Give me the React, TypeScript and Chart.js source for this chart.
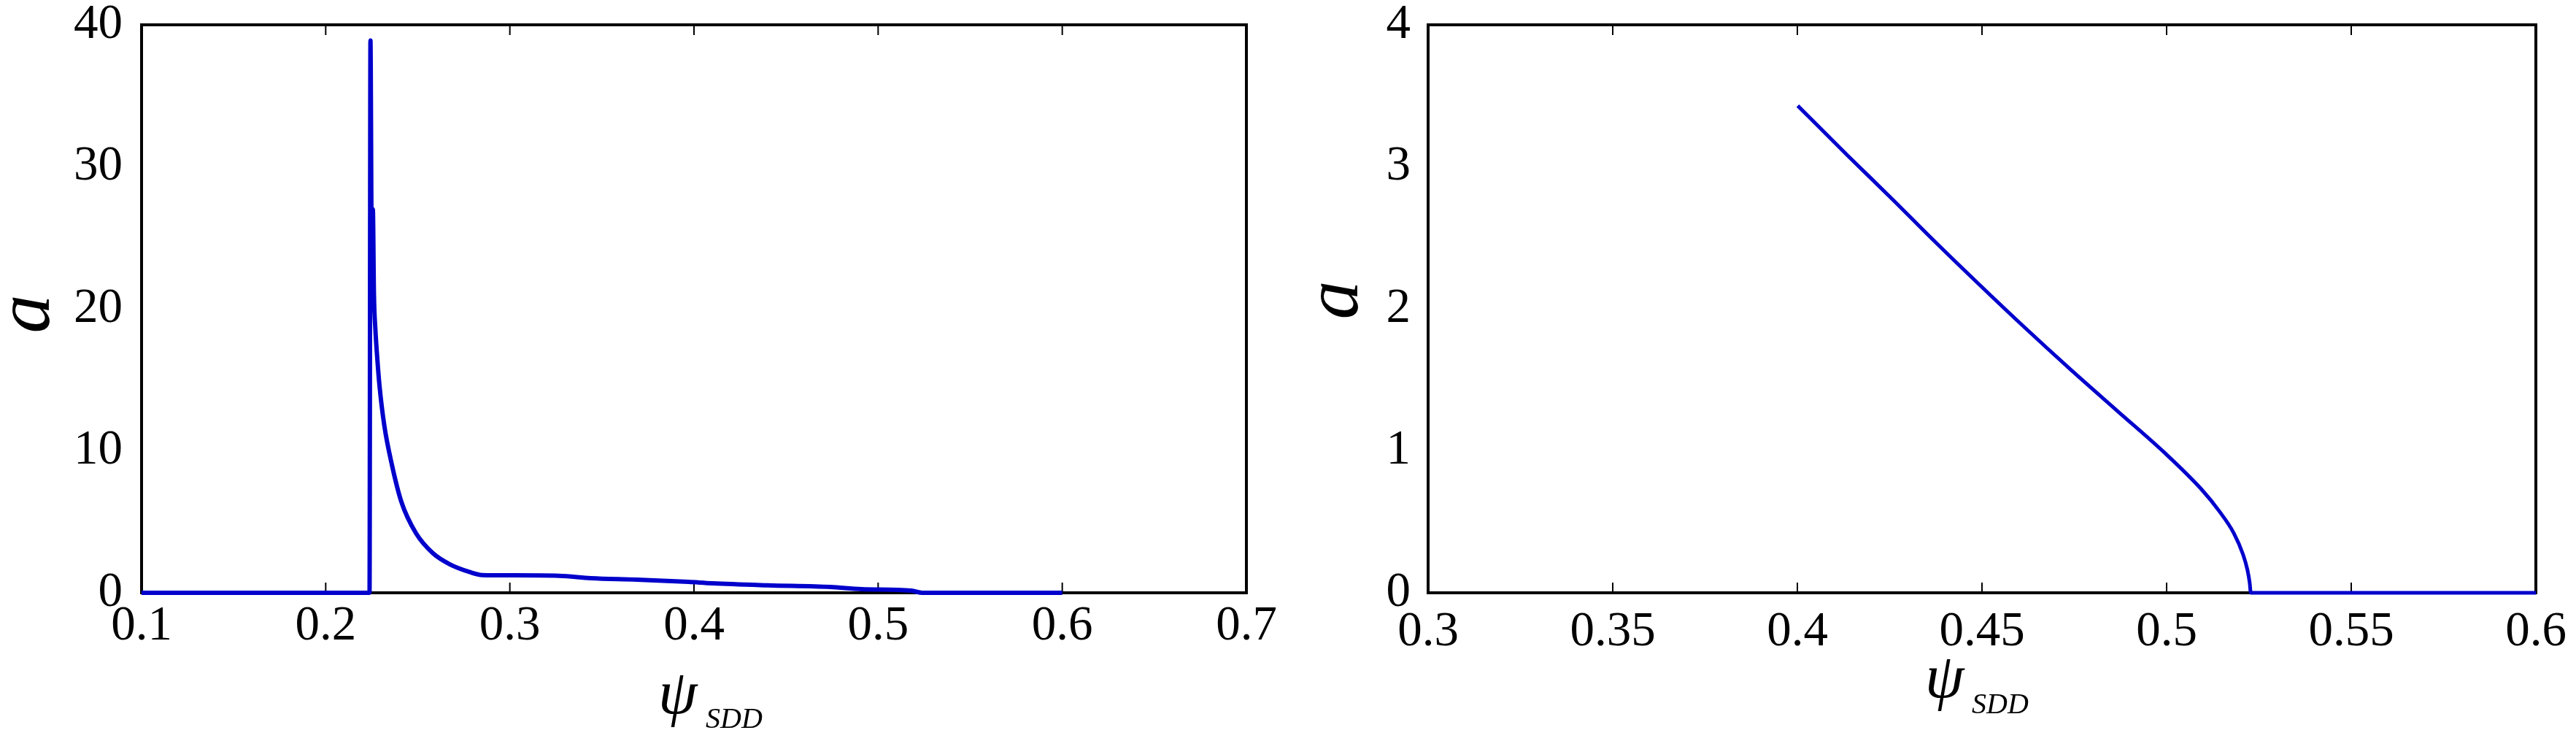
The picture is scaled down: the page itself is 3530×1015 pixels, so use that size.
import React, { useEffect, useRef } from 'react';
import { Chart, registerables } from 'chart.js';

Chart.register(...registerables);

// ---------- data ----------
const leftPsi = [0.1, 0.2238, 0.2243, 0.2250, 0.2256, 0.2262, 0.2270, 0.2279, 0.2292, 0.2318, 0.2358, 0.2411, 0.2490, 0.2581, 0.2675, 0.2780, 0.2850, 0.3000, 0.3267, 0.3440, 0.3690, 0.3970, 0.4100, 0.4400, 0.4740, 0.4910, 0.5180, 0.5240, 0.6];
const leftA = [0, 0, 38.9, 24.5, 27.0, 21.0, 18.5, 16.7, 14.6, 11.8, 9.1, 6.4, 4.2, 2.8, 2.0, 1.47, 1.25, 1.23, 1.2, 1.03, 0.93, 0.77, 0.67, 0.53, 0.41, 0.26, 0.15, 0, 0];

const rightPsi = [0.4001, 0.4136, 0.4262, 0.4362, 0.4489, 0.4615, 0.4741, 0.4867, 0.4993, 0.5094, 0.5144, 0.5182, 0.5207, 0.5219, 0.5225, 0.5228, 0.6];
const rightA = [3.43, 3.08, 2.76, 2.50, 2.18, 1.87, 1.57, 1.28, 0.99, 0.73, 0.57, 0.42, 0.27, 0.16, 0.07, 0, 0];

const leftXTicks = [0.1, 0.2, 0.3, 0.4, 0.5, 0.6, 0.7];
const leftYTicks = [0, 10, 20, 30, 40];
const rightXTicks = [0.3, 0.35, 0.4, 0.45, 0.5, 0.55, 0.6];
const rightYTicks = [0, 1, 2, 3, 4];

const yTitle = 'a';
const xTitleMain = 'ψ';
const xTitleSub = 'SDD';

const LINE_COLOR = '#0000CC';
const FONT = '"Liberation Serif", "Times New Roman", serif';

// ---------- plugins ----------
const framePlugin = {
  id: 'frame',
  beforeDatasetsDraw(chart: any) {
    const { ctx, chartArea } = chart;
    const { left, right, top, bottom } = chartArea;
    const xs = chart.scales.x;
    ctx.save();
    ctx.strokeStyle = '#000';
    ctx.lineWidth = 2;
    for (const t of xs.ticks) {
      const p = xs.getPixelForValue(t.value);
      if (p <= left + 2 || p >= right - 2) continue;
      ctx.beginPath();
      ctx.moveTo(p, bottom);
      ctx.lineTo(p, bottom - 14);
      ctx.moveTo(p, top);
      ctx.lineTo(p, top + 14);
      ctx.stroke();
    }
    ctx.lineWidth = 4;
    ctx.strokeRect(left, top, right - left, bottom - top);
    ctx.restore();
  },
};

const titlePlugin = {
  id: 'titles',
  afterDraw(chart: any, _args: any, o: any) {
    const { ctx, chartArea: ca } = chart;
    const cx = (ca.left + ca.right) / 2;
    const cy = (ca.top + ca.bottom) / 2;
    ctx.save();
    ctx.fillStyle = '#000';
    ctx.font = `italic 106px ${FONT}`;
    ctx.translate(ca.left + o.aDX, cy + o.aDY);
    ctx.rotate(-Math.PI / 2);
    ctx.textAlign = 'center';
    ctx.textBaseline = 'alphabetic';
    ctx.fillText(yTitle, 0, 0);
    ctx.restore();

    ctx.save();
    ctx.fillStyle = '#000';
    ctx.textAlign = 'left';
    ctx.textBaseline = 'alphabetic';
    ctx.font = `italic 86px ${FONT}`;
    ctx.fillText(xTitleMain, cx + o.psiDX, ca.bottom + o.psiDY);
    ctx.font = `italic 40px ${FONT}`;
    ctx.fillText(xTitleSub, cx + o.subDX, ca.bottom + o.subDY);
    ctx.restore();
  },
};

type PanelProps = {
  xs: number[];
  ys: number[];
  xTicks: number[];
  yTicks: number[];
  left: number;
  yWidth: number;
  padRight: number;
  xPad: number;
  yPad: number;
  lineWidth: number;
  titles: any;
};

const CW = 1765;
const CH = 1015;

function Panel(p: PanelProps) {
  const ref = useRef<HTMLCanvasElement>(null);
  useEffect(() => {
    const tickFont = { family: FONT, size: 67 };
    const chart = new Chart(ref.current as HTMLCanvasElement, {
      type: 'line',
      data: {
        datasets: [
          {
            data: p.xs.map((x, i) => ({ x, y: p.ys[i] })),
            borderColor: LINE_COLOR,
            backgroundColor: LINE_COLOR,
            borderWidth: p.lineWidth,
            pointRadius: 0,
            cubicInterpolationMode: 'monotone',
            fill: false,
            clip: false as any,
          },
        ],
      },
      options: {
        animation: false,
        responsive: false,
        devicePixelRatio: 1,
        events: [],
        layout: { padding: { left: 0, right: p.padRight, top: 34, bottom: 0 } },
        plugins: {
          legend: { display: false },
          tooltip: { enabled: false },
          titles: p.titles,
        } as any,
        scales: {
          x: {
            type: 'linear',
            position: 'bottom',
            min: p.xTicks[0],
            max: p.xTicks[p.xTicks.length - 1],
            grid: { display: false, drawTicks: false },
            border: { display: false },
            ticks: {
              font: tickFont,
              color: '#000',
              padding: p.xPad,
              maxRotation: 0,
              autoSkip: false,
              callback: (v: any) => String(v),
            },
            afterBuildTicks: (s: any) => {
              s.ticks = p.xTicks.map((v) => ({ value: v }));
            },
            afterFit: (s: any) => {
              s.height = CH - 812;
              s.paddingLeft = 0;
              s.paddingRight = 0;
            },
          },
          y: {
            type: 'linear',
            min: p.yTicks[0],
            max: p.yTicks[p.yTicks.length - 1],
            grid: { display: false, drawTicks: false },
            border: { display: false },
            ticks: {
              font: tickFont,
              color: '#000',
              padding: p.yPad,
              autoSkip: false,
              callback: (v: any) => String(v),
            },
            afterBuildTicks: (s: any) => {
              s.ticks = p.yTicks.map((v) => ({ value: v }));
            },
            afterFit: (s: any) => {
              s.width = p.yWidth;
              s.paddingTop = 0;
              s.paddingBottom = 0;
            },
          },
        } as any,
      },
      plugins: [framePlugin, titlePlugin],
    });
    return () => chart.destroy();
  }, []);
  return (
    <canvas
      ref={ref}
      width={CW}
      height={CH}
      style={{ position: 'absolute', left: p.left, top: 0, width: CW, height: CH }}
    />
  );
}

export default function App() {
  return (
    <div style={{ position: 'fixed', left: 0, top: 0, width: 3530, height: 1015, background: '#fff' }}>
      <Panel
        xs={leftPsi}
        ys={leftA}
        xTicks={leftXTicks}
        yTicks={leftYTicks}
        left={0}
        yWidth={194}
        padRight={CW - 1708}
        xPad={6}
        yPad={26}
        lineWidth={6}
        titles={{ aDX: -127, aDY: 7, psiDX: -49, psiDY: 165, subDX: 16, subDY: 185 }}
      />
      <Panel
        xs={rightPsi}
        ys={rightA}
        xTicks={rightXTicks}
        yTicks={rightYTicks}
        left={CW}
        yWidth={1957 - CW}
        padRight={CW - (3475 - CW)}
        xPad={14}
        yPad={24}
        lineWidth={5}
        titles={{ aDX: -97, aDY: -12, psiDX: -78, psiDY: 143, subDX: -14, subDY: 165 }}
      />
    </div>
  );
}
